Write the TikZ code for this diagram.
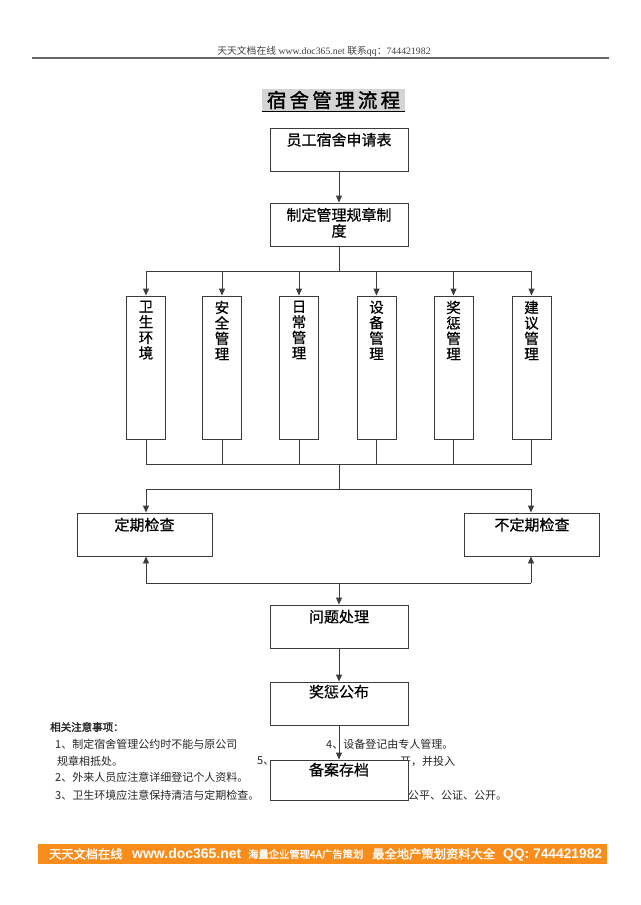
\documentclass[tikz,border=0pt]{standalone}
\usepackage{fontspec}
\setmainfont{Liberation Serif}
\newfontfamily\cjk{Noto Sans CJK SC}
\newfontfamily\cjkm{Noto Sans CJK SC}[FakeBold=0.6]
\newfontfamily\cjkb{Noto Sans CJK SC}[FakeBold=1.5]
\newfontfamily\latb{Liberation Sans}
\usetikzlibrary{arrows.meta,calc}
\definecolor{footorange}{RGB}{248,141,28}
\definecolor{linegray}{RGB}{60,60,60}
\tikzset{
  box/.style={draw=linegray, line width=0.9pt, fill=white, minimum width=138pt, minimum height=43pt, inner sep=0pt},
  vbox/.style={draw=linegray, line width=0.9pt, fill=white, minimum width=39pt, minimum height=143pt, inner sep=0pt},
  cbox/.style={draw=linegray, line width=0.9pt, fill=white, minimum width=135pt, minimum height=43pt, inner sep=0pt},
  boxtext/.style={font=\cjkm\fontsize{15}{16}\selectfont, anchor=north, inner sep=0pt, align=center},
  vtext/.style={font=\cjkm\fontsize{14.5}{15.5}\selectfont, anchor=north, inner sep=0pt, align=center},
  note/.style={font=\cjk\fontsize{11}{12}\selectfont, anchor=west, inner sep=0pt, text=black!85},
  foot/.style={inner sep=0pt, anchor=base west, text=white},
  conn/.style={draw=linegray, line width=0.9pt},
  arr/.style={conn, -{Triangle[width=6pt,length=7pt]}}
}
\begin{document}
\begin{tikzpicture}[x=1pt,y=-1pt]
\useasboundingbox[fill=white] (0,0) rectangle (640,905);
% header
\node[inner sep=0pt, font=\fontsize{9.8}{10}\selectfont, text=black!75] (hdr) at (324,51) {{\cjk 天天文档在线} www.doc365.net {\cjk 联系}qq{\cjk ：}744421982};
\coordinate (hl) at (32,58);
\coordinate (hr) at (609,58);
\draw[draw=black!60, line width=1.2pt] (hl) -- (hr);
% title
\fill[black!17] (262,89) rectangle (405,111);
\node[inner sep=0pt, font=\cjkb\fontsize{19.5}{20}\selectfont] (title) at (333.5,100) {宿\,舍\,管\,理\,流\,程};
\draw[line width=1pt] (262,111) -- (405,111);
% main boxes
\node[box] (b1) at (339,149.5) {};
\node[boxtext] (t1) at ($(b1.north)+(0,5)$) {员工宿舍申请表};
\node[box] (b2) at (339,224.5) {};
\node[boxtext] (t2) at ($(b2.north)+(0,5)$) {制定管理规章制\\度};
% vertical boxes
\foreach \i/\x/\t in {1/146/卫\\生\\环\\境, 2/222/安\\全\\管\\理, 3/299/日\\常\\管\\理, 4/376.5/设\\备\\管\\理, 5/453.5/奖\\惩\\管\\理, 6/531.5/建\\议\\管\\理}{
  \node[vbox] (v\i) at (\x,367.5) {};
  \node[vtext] (vt\i) at ($(v\i.north)+(0,5)$) {\t};
}
\draw[arr] (b1) -- (b2);
\coordinate (br1) at (339,271);
\draw[conn] (b2.south) -- (br1);
\draw[conn] (v1.north |- br1) -- (v6.north |- br1);
\foreach \i in {1,...,6}{ \draw[arr] (v\i.north |- br1) -- (v\i.north); }
\coordinate (jn1) at (339,464);
\foreach \i in {1,...,6}{ \draw[conn] (v\i.south) -- (v\i.south |- jn1); }
\draw[conn] (v1.south |- jn1) -- (v6.south |- jn1);
% checks
\node[cbox] (c1) at (144.5,534.5) {};
\node[boxtext] (ct1) at ($(c1.north)+(0,5)$) {定期检查};
\node[cbox] (c2) at (532,534.5) {};
\node[boxtext] (ct2) at ($(c2.north)+(0,5)$) {不定期检查};
\coordinate (br2) at (339,489);
\draw[conn] (jn1) -- (br2);
\coordinate (c1t) at (146,489);
\coordinate (c2t) at (531,489);
\draw[conn] (c1t) -- (c2t);
\draw[arr] (c1t) -- (c1t |- c1.north);
\draw[arr] (c2t) -- (c2t |- c2.north);
\coordinate (jn2) at (339,583);
\coordinate (c1b) at (146,583);
\coordinate (c2b) at (531,583);
\draw[conn] (c1b) -- (c2b);
\draw[arr] (c1b) -- (c1b |- c1.south);
\draw[arr] (c2b) -- (c2b |- c2.south);
% lower boxes
\node[box] (p1) at (339,626.5) {};
\node[boxtext] (pt1) at ($(p1.north)+(0,5)$) {问题处理};
\draw[arr] (jn2) -- (p1.north);
\node[box] (p2) at (339,703.5) {};
\node[boxtext] (pt2) at ($(p2.north)+(0,3)$) {奖惩公布};
\draw[arr] (p1) -- (p2);
% notes
\node[note, font=\cjkb\fontsize{10.5}{12}\selectfont] (n0) at (50,727) {相关注意事项：};
\node[note] (n1) at (55,744) {1、制定宿舍管理公约时不能与原公司};
\node[note] (n1b) at (57,761) {规章相抵处。};
\node[note] (n2) at (55,777.5) {2、外来人员应注意详细登记个人资料。};
\node[note] (n3) at (55,795) {3、卫生环境应注意保持清洁与定期检查。};
\node[note] (n4) at (326,744) {4、设备登记由专人管理。};
\node[note] (n5) at (257,761) {5、};
\node[note] (n5b) at (400,761) {开，并投入};
\node[note] (n6) at (397,795) {应公平、公证、公开。};
\node[box, minimum height=40pt] (p3) at (339,780) {};
\node[boxtext] (pt3) at ($(p3.north)+(0,3)$) {备案存档};
\draw[arr] (p2) -- (p3);
% footer
\fill[footorange] (38,844) rectangle (607,864);
\node[foot, font=\cjkb\fontsize{12.2}{13}\selectfont] (f1) at (49,858.5) {天天文档在线};
\node[foot, font=\latb\bfseries\fontsize{14}{15}\selectfont] (f2) at (132,858.5) {www.doc365.net};
\node[foot, font=\cjkb\fontsize{10.3}{11}\selectfont] (f3) at (248,858) {海量企业管理4A广告策划};
\node[foot, font=\cjkb\fontsize{12.3}{13}\selectfont] (f4) at (372,858.5) {最全地产策划资料大全};
\node[foot, font=\latb\bfseries\fontsize{13.8}{15}\selectfont] (f5) at (503,858.5) {QQ: 744421982};
\end{tikzpicture}
\end{document}
